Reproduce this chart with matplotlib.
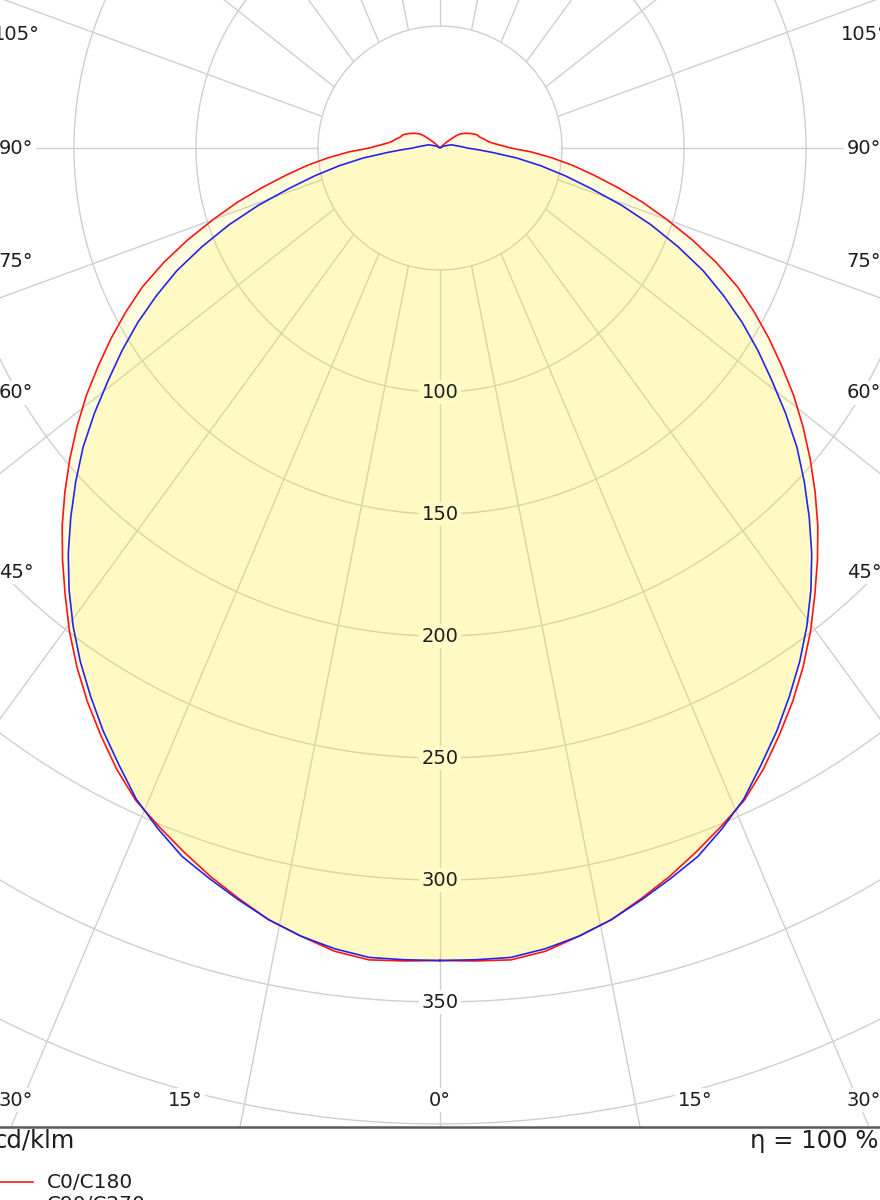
import numpy as np
import matplotlib.pyplot as plt
from matplotlib.lines import Line2D

# luminous intensity in cd/klm, gamma 0..180 step 2.5
gamma = np.arange(0, 182.5, 2.5)
c0_c180 = [333, 333.5, 334, 332, 328, 324, 318.5, 313, 307, 301, 295, 287,
           278, 269, 259.5, 249.5, 239, 229, 219, 208.5, 198, 187.5, 177, 166,
           155.5, 145, 134.5, 122.5, 110, 97.5, 86, 74.5, 64, 55, 46, 37.5,
           29, 25, 22, 20, 19, 18, 17, 16.5, 16, 15, 14, 13, 12, 11, 10, 8,
           5, 3, 1,
           0, 0, 0, 0, 0, 0, 0, 0, 0, 0, 0, 0, 0, 0, 0, 0, 0, 0]
c90_c270 = [333, 333, 333, 331, 328, 324, 319, 314, 309, 302, 294.5, 285,
            276, 266.5, 257, 247, 236.5, 225.5, 214, 202.5, 191, 178.5, 166,
            154.5, 143, 131, 119, 105.5, 92, 78, 64, 52.5, 42, 32, 22, 15.5,
            11, 9.5, 8, 7, 6, 5.5, 5, 4, 3, 2.5, 2, 1.5, 1, 0.5,
            0, 0, 0, 0, 0, 0, 0, 0, 0, 0, 0, 0, 0, 0, 0, 0, 0, 0, 0, 0, 0, 0, 0]
rings = [50, 100, 150, 200, 250, 300, 350, 400, 450]
ring_labels = [100, 150, 200, 250, 300, 350]
angle_labels = list(range(0, 180, 15))
series_names = ['C0/C180', 'C90/C270']
unit_text = 'cd/klm'
eta_text = 'η = 100 %'

W, H = 880, 1200
S = 2.44              # px per cd/klm
CX, CY = 440, 148     # pole in px (from top)
BOTTOM = 1127         # frame line in px
K = 1.37              # grid line slant of the original drawing

fig = plt.figure(figsize=(W / 100, H / 100), dpi=100)
ax = fig.add_axes([0, (H - BOTTOM) / H, 1, BOTTOM / H])
ax.set_xlim(-CX / S, (W - CX) / S)
ax.set_ylim(-(BOTTOM - CY) / S, CY / S)
ax.set_aspect('auto')
ax.axis('off')

grid_col = '#cfcfcf'
txt_col = '#1e1e1e'
red = '#ff1414'
blue = '#2424e8'

# circles
t = np.linspace(0, 2 * np.pi, 721)
for r in rings:
    ax.plot(r * np.cos(t), r * np.sin(t), color=grid_col, lw=1.0, zorder=1)

# angular lines, starting at the 50 ring
for th in range(0, 360, 15):
    a = np.radians(th)
    p = np.array([50 * np.sin(a), -50 * np.cos(a)])
    d = np.array([np.sin(a), -K * np.cos(a)])
    d = d / np.hypot(*d)
    q = p + 1500 * d
    ax.plot([p[0], q[0]], [p[1], q[1]], color=grid_col, lw=1.0, zorder=1)

# curves
fill_col = np.array([1.0, 0.93, 0.0])
alpha = 0.12
g = np.radians(gamma)


def outline(vals):
    v = np.asarray(vals, dtype=float)
    xs = np.concatenate([v * np.sin(g), -(v * np.sin(g))[::-1]])
    ys = np.concatenate([-v * np.cos(g), -(v * np.cos(g))[::-1]])
    return xs, ys


for vals in (c0_c180, c90_c270):
    xs, ys = outline(vals)
    ax.fill(xs, ys, color=fill_col, alpha=alpha, lw=0, zorder=2)

xr, yr = outline(c0_c180)
xb, yb = outline(c90_c270)
ax.plot(xr, yr, color=red, lw=1.2, zorder=3)
ax.plot(xb, yb, color=blue, lw=1.2, zorder=3)

inside_col = 1 - (1 - fill_col) * (1 - (1 - alpha) ** 2)

# intensity labels
for r in ring_labels:
    fc = inside_col if r < max(c0_c180[0], c90_c270[0]) else 'white'
    ax.text(0, -r, str(r), ha='center', va='center', fontsize=14,
            color=txt_col, zorder=4,
            bbox=dict(boxstyle='square,pad=0.12', fc=fc, ec='none'))

# angle labels along the frame
L = (CX - 16) / S
B = (1100 - CY) / S
for th in angle_labels:
    a = np.radians(th)
    for side in ([1] if th == 0 else [-1, 1]):
        if th <= 30:
            x = min(B * np.tan(a), L) * side
            y = -B
        else:
            x = L * side
            y = -L * np.cos(a) / np.sin(a)
        ax.text(x, y, f'{th}°', ha='center', va='center', fontsize=14,
                color=txt_col, zorder=4,
                bbox=dict(boxstyle='square,pad=0.12', fc='white', ec='none'))

# frame line and footer
fig.add_artist(Line2D([0, 1], [(H - BOTTOM) / H] * 2, transform=fig.transFigure,
                      color='#5a5a5a', lw=1.8))
fig.text(-6 / W, 1 - 1141 / H, unit_text, ha='left', va='center',
         fontsize=17.5, color=txt_col)
fig.text(750 / W, 1 - 1141 / H, eta_text, ha='left', va='center',
         fontsize=17.5, color=txt_col)

for i, (name, col) in enumerate(zip(series_names, [red, blue])):
    yy = 1 - (1182 + 23 * i) / H
    fig.add_artist(Line2D([0, 33 / W], [yy, yy], transform=fig.transFigure,
                          color=col, lw=1.2))
    fig.text(47 / W, yy, name, ha='left', va='center', fontsize=14.5,
             color=txt_col)

fig.savefig('out.png', dpi=100)
